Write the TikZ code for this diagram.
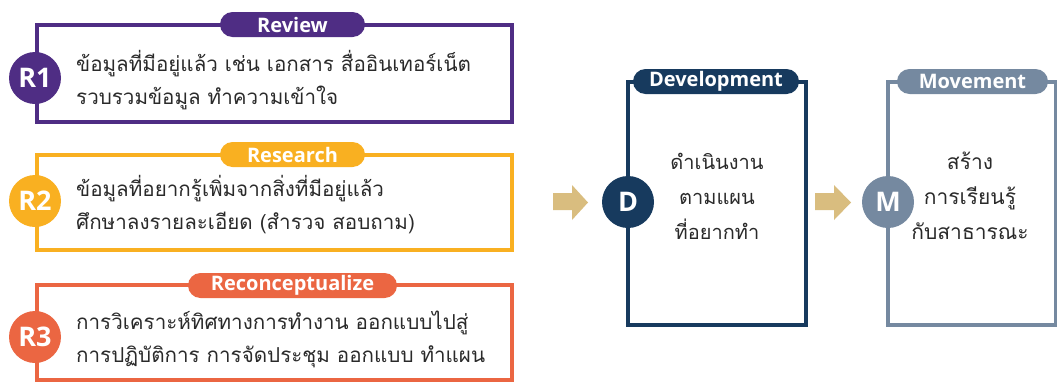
\documentclass[tikz,border=0pt]{standalone}
\usepackage{fontspec}
\setmainfont{Open Sans}
\newfontfamily\thai[Script=Thai]{Loma}
\newfontfamily\lab{Open Sans}
\definecolor{cpur}{HTML}{4F2D84}
\definecolor{cyel}{HTML}{F9B021}
\definecolor{cora}{HTML}{EB6642}
\definecolor{cnav}{HTML}{173A5E}
\definecolor{cgry}{HTML}{7589A0}
\definecolor{ctan}{HTML}{D9BD7F}
\definecolor{ctxt}{HTML}{2A2A2A}
\tikzset{
  boxline/.style={line width=3.2pt},
  pill/.style={rounded corners=12.5pt, minimum height=25pt, inner sep=0pt, text=white, font=\lab\bfseries\fontsize{20}{20}\selectfont},
  badge/.style={circle, minimum size=52pt, inner sep=0pt, text=white, font=\lab\bfseries\fontsize{27}{27}\selectfont},
  thaitext/.style={text=ctxt, font=\thai\fontsize{20.6}{33}\selectfont, inner sep=0pt},
  blockarrow/.style={fill=ctan}
}
\begin{document}
\begin{tikzpicture}[x=1pt,y=-1pt]
\useasboundingbox (0,0) rectangle (1057,383);
% R1
\draw[boxline, cpur] (37,25) rectangle (512,122);
\node[pill, fill=cpur, minimum width=145pt] (p1) at (292.5,24.5) {Review};
\node[badge, fill=cpur] (r1) at (35,78) {R1};
\node[thaitext, anchor=west, align=left] (t1) at (76,80) {ข้อมูลที่มีอยู่แล้ว เช่น เอกสาร สื่ออินเทอร์เน็ต\\รวบรวมข้อมูล ทำความเข้าใจ};
% R2
\draw[boxline, cyel] (37,155) rectangle (512,250);
\node[pill, fill=cyel, minimum width=145pt] (p2) at (292.5,154.5) {Research};
\node[badge, fill=cyel] (r2) at (35,201) {R2};
\node[thaitext, anchor=west, align=left] (t2) at (76,205) {ข้อมูลที่อยากรู้เพิ่มจากสิ่งที่มีอยู่แล้ว\\ศึกษาลงรายละเอียด (สำรวจ สอบถาม)};
% R3
\draw[boxline, cora] (37,285) rectangle (512,380);
\node[pill, fill=cora, minimum width=209pt] (p3) at (292.5,285.5) {Reconceptualize};
\node[badge, fill=cora] (r3) at (35,337) {R3};
\node[thaitext, anchor=west, align=left] (t3) at (76,339) {การวิเคราะห์ทิศทางการทำงาน ออกแบบไปสู่\\การปฏิบัติการ การจัดประชุม ออกแบบ ทำแผน};
% arrows
\fill[blockarrow] (553,193) -- (572,193) -- (572,185) -- (588,202.5) -- (572,220) -- (572,210) -- (553,210) -- cycle;
\fill[blockarrow] (815,193) -- (834,193) -- (834,185) -- (851,202.5) -- (834,220) -- (834,210) -- (815,210) -- cycle;
% D
\draw[boxline, cnav] (628,82) rectangle (806,325);
\node[pill, fill=cnav, minimum width=166pt] (pd) at (716,81.5) {Development};
\node[badge, fill=cnav] (d) at (628,202) {D};
\node[thaitext, align=center, font=\thai\fontsize{20}{35}\selectfont] (td) at (717,196) {ดำเนินงาน\\ตามแผน\\ที่อยากทำ};
% M
\draw[boxline, cgry] (888,82) -- (1055.4,82) -- (1055.4,325) -- (888,325) -- cycle;
\node[pill, fill=cgry, minimum width=151pt] (pm) at (972.5,81.5) {Movement};
\node[badge, fill=cgry] (m) at (888,202) {M};
\node[thaitext, align=center, font=\thai\fontsize{21}{35}\selectfont] (tm) at (970,196) {สร้าง\\การเรียนรู้\\กับสาธารณะ};
\end{tikzpicture}
\end{document}
